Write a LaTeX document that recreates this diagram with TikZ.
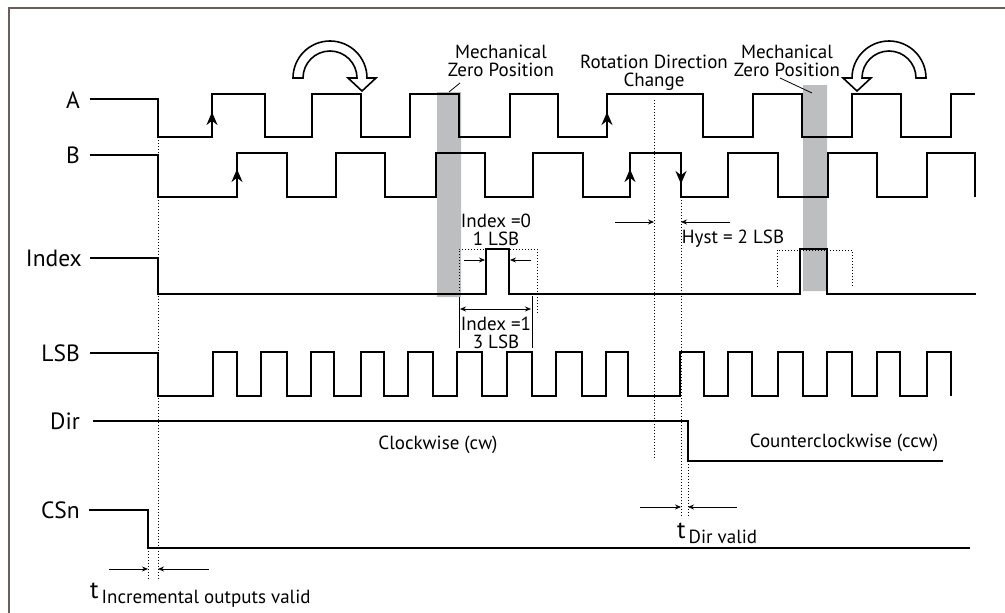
\documentclass[tikz,border=0pt]{standalone}
\usepackage{fontspec}
\setmainfont{PT Sans}
\usetikzlibrary{arrows.meta}
\definecolor{framecol}{RGB}{107,94,88}
\definecolor{zerogray}{RGB}{188,190,192}
\begin{document}
\begin{tikzpicture}[>={Stealth[length=6pt,width=5pt]},x=1pt,y=-1pt,
	wave/.style={line width=2pt,line join=miter},
	siglabel/.style={anchor=east,inner sep=0pt,font=\fontsize{23.5}{23.5}\selectfont},
	annot/.style={inner sep=0pt,align=center,font=\fontsize{19}{18.5}\selectfont},
	vguide/.style={line width=0.8pt,dash pattern=on 1pt off 2pt},
	dimline/.style={line width=0.8pt},
	edgetip/.style={-{Stealth[length=13pt,width=11pt]},line width=2pt},
	rotarrow/.style={draw,line width=1.6pt,fill=white}]
	\useasboundingbox (0,0) rectangle (1005,613);
	\draw[framecol,line width=2.5pt] (1005,8) -- (9,8) -- (9,613);
	\fill[zerogray] (437,92) rectangle (461,297) (803,85) rectangle (827,291);
	\node[siglabel] (labA) at (80,100) {A};
	\node[siglabel] (labB) at (80,155) {B};
	\node[siglabel] (labIdx) at (82,258) {Index};
	\node[siglabel] (labLSB) at (80,353) {LSB};
	\node[siglabel] (labDir) at (80,421) {Dir};
	\node[siglabel] (labCSn) at (80,510) {CSn};
	\draw[wave] (90,99) -- (158,99) -- (158,137)
		foreach \r/\f in {212/265,312/361,410/459,510/558,607/703,753/802,852/901} {-- (\r,137) -- (\r,94) -- (\f,94) -- (\f,137)}
		-- (951,137) -- (951,94) -- (975,94);
	\draw[wave] (90,155) -- (158,155) -- (158,197)
		foreach \r/\f in {237/287,336/385,436/485,533/583,630/681,728/778,828/877,927/975} {-- (\r,197) -- (\r,153) -- (\f,153) -- (\f,197)};
	\draw[wave] (90,258) -- (158,258) -- (158,294)
		foreach \r/\f in {486/509,800/827} {-- (\r,294) -- (\r,249) -- (\f,249) -- (\f,294)}
		-- (976,294);
	\draw[wave] (90,353) -- (158,353) -- (158,396)
		foreach \r/\f in {213/237,261/287,311/334,361/384,408/433,457/482,507/532,556/582,606/628,680/704,728/752,778/803,827/852,877/900,927/951} {-- (\r,396) -- (\r,352) -- (\f,352) -- (\f,396)};
	\draw[wave] (93,421) -- (688,421) -- (688,461) -- (943,461);
	\draw[wave] (89,510) -- (148,510) -- (148,548) -- (970,548);
	\foreach \x/\y in {212/112,607/112,237/169,630/169} \draw[edgetip] (\x,\y+17) -- (\x,\y);
	\draw[edgetip] (681,166) -- (681,184);
	\draw[rotarrow] (293,78) arc[start angle=180,end angle=360,radius=37] -- (376,78) -- (362,91) -- (348,78) -- (357,78) arc[start angle=360,end angle=180,radius=27] -- cycle;
	\draw[rotarrow] (926,78) arc[start angle=360,end angle=180,radius=37] -- (843,78) -- (857,91) -- (871,78) -- (862,78) arc[start angle=180,end angle=360,radius=27] -- cycle;
	\draw[vguide] (158,137) -- (158,579) (148,548) -- (148,579);
	\draw[vguide] (654,100) -- (654,460) (681,197) -- (681,518) (688,461) -- (688,518);
	\draw[vguide] (459,294) -- (459,249) -- (537,249) -- (537,314);
	\draw[vguide] (777,287) -- (777,250) -- (852,250) -- (852,287);
	\draw[dimline] (459,297) -- (459,348) (532,296) -- (532,348);
	\draw[dimline] (449,92) -- (460,83) (780,78) -- (812,93);
	\coordinate (lsbL) at (485,260);
	\coordinate (lsbR) at (510,260);
	\draw[dimline,->] (464,260) -- (lsbL);
	\draw[dimline,->] (531,260) -- (lsbR);
	\draw[dimline,<->] (460,309) -- (531,309);
	\coordinate (hystL) at (654,222);
	\coordinate (hystR) at (681,222);
	\draw[dimline,->] (615,222) -- (hystL);
	\draw[dimline,->] (730,222) -- (hystR);
	\coordinate (incL) at (148,569);
	\coordinate (incR) at (158,569);
	\draw[dimline,->] (109,569) -- (incL);
	\draw[dimline,->] (209,569) -- (incR);
	\coordinate (dirL) at (681,507);
	\coordinate (dirR) at (688,507);
	\draw[dimline,->] (640,507) -- (dirL);
	\draw[dimline,->] (737,507) -- (dirR);
	\node[annot] (zero1) at (501,61) {Mechanical\\Zero Position};
	\node[annot] (zero2) at (787,61) {Mechanical\\Zero Position};
	\node[annot] (rotchg) at (654,73) {Rotation Direction\\Change};
	\node[annot] (idx0) at (496,230) {Index =0\\1 LSB};
	\node[annot] (idx1) at (496,333) {Index =1\\3 LSB};
	\node[annot] (hyst) at (733,239) {Hyst = 2 LSB};
	\node[annot] (cw) at (438,445) {Clockwise (cw)};
	\node[annot] (ccw) at (844,443) {Counterclockwise (ccw)};
	\node[annot,anchor=base west] (tinc) at (90,598) {{\fontsize{25}{25}\selectfont t}\hspace{3pt}\raisebox{-5pt}{Incremental outputs valid}};
	\node[annot,anchor=base west] (tdir) at (677,538) {{\fontsize{25}{25}\selectfont t}\hspace{3pt}\raisebox{-5pt}{Dir valid}};
\end{tikzpicture}
\end{document}
